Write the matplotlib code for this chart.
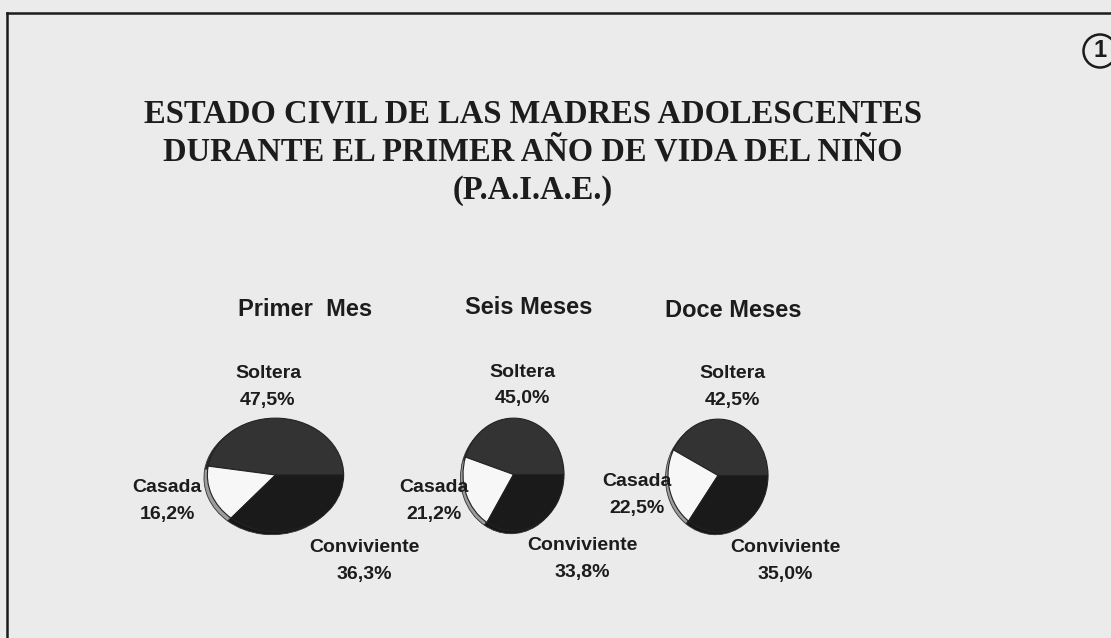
import matplotlib.pyplot as plt
from matplotlib.patches import Circle
from matplotlib.lines import Line2D

W, H = 1111, 638

# data
panels = ['Primer  Mes', 'Seis Meses', 'Doce Meses']
categories = ['Soltera', 'Casada', 'Conviviente']
soltera = [47.5, 45.0, 42.5]
casada = [16.2, 21.2, 22.5]
conviviente = [36.3, 33.8, 35.0]

title = ('ESTADO CIVIL DE LAS MADRES ADOLESCENTES\n'
         'DURANTE EL PRIMER AÑO DE VIDA DEL NIÑO\n'
         '(P.A.I.A.E.)')

colors = ['#333333', '#f7f7f7', '#1a1a1a']
side_colors = ['#2a2a2a', '#9c9c9c', '#161616']

# layout in pixels: pie ellipse boxes (left, top, right, bottom)
pie_boxes = [(206, 417, 345, 533), (462, 417, 565, 532), (667, 418, 769, 533)]
panel_pos = [(305, 309), (529, 307), (733, 311)]
# label anchors (x, y of name line) per panel, per category
label_pos = [
    [(268, 373), (167, 488), (364, 548)],
    [(522, 372), (434, 488), (582, 546)],
    [(732, 373), (637, 482), (785, 548)],
]
line_gap = 27

sans = ['Liberation Sans', 'DejaVu Sans']
serif = ['Liberation Serif', 'DejaVu Serif']


def fx(px):
    return px / W


def fy(py):
    return 1 - py / H


def pct(v):
    return f'{v:.1f}'.replace('.', ',') + '%'


fig = plt.figure(figsize=(W / 100, H / 100), dpi=100, facecolor='#ebebeb')

# frame
fig.add_artist(Line2D([fx(7), fx(W + 5)], [fy(13), fy(13)], color='#1c1c1c', lw=1.8,
                      transform=fig.transFigure))
fig.add_artist(Line2D([fx(7), fx(7)], [fy(13), fy(H + 5)], color='#1c1c1c', lw=1.8,
                      transform=fig.transFigure))

# page number badge
ax_badge = fig.add_axes([fx(1082), fy(69), fx(36), 36 / H])
ax_badge.set_xlim(0, 36)
ax_badge.set_ylim(0, 36)
ax_badge.axis('off')
ax_badge.add_patch(Circle((18, 18), 16.5, fill=False, lw=1.8, ec='#1c1c1c'))
ax_badge.text(18, 18.5, '1', ha='center', va='center', fontsize=17, fontweight='bold',
              family=sans, color='#1c1c1c')

fig.text(fx(533), fy(152), title, ha='center', va='center', fontsize=23.5,
         fontweight='bold', family=serif, color='#1c1c1c', linespacing=1.3)

for i, name in enumerate(panels):
    l, t, r, b = pie_boxes[i]
    ax = fig.add_axes([fx(l), fy(b), (r - l) / W, (b - t) / H])
    vals = [soltera[i], casada[i], conviviente[i]]
    # side of the tilted pie, slightly offset
    ax.pie(vals, colors=side_colors, startangle=0, counterclock=True, center=(-0.05, -0.05),
           wedgeprops={'edgecolor': '#333333', 'linewidth': 0.6})
    ax.pie(vals, colors=colors, startangle=0, counterclock=True,
           wedgeprops={'edgecolor': '#222222', 'linewidth': 0.8})
    ax.set_aspect('auto')
    ax.set_xlim(-1.02, 1.02)
    ax.set_ylim(-1.02, 1.02)
    ax.axis('off')

    px, py = panel_pos[i]
    fig.text(fx(px), fy(py), name, ha='center', va='center', fontsize=17,
             fontweight='bold', family=sans, color='#1c1c1c')
    for j, cat in enumerate(categories):
        lx, ly = label_pos[i][j]
        fig.text(fx(lx), fy(ly), cat, ha='center', va='center', fontsize=14,
                 fontweight='bold', family=sans, color='#1c1c1c')
        fig.text(fx(lx), fy(ly + line_gap), pct(vals[j]), ha='center', va='center',
                 fontsize=14, fontweight='bold', family=sans, color='#1c1c1c')

fig.savefig('out.png', dpi=100, facecolor=fig.get_facecolor())
